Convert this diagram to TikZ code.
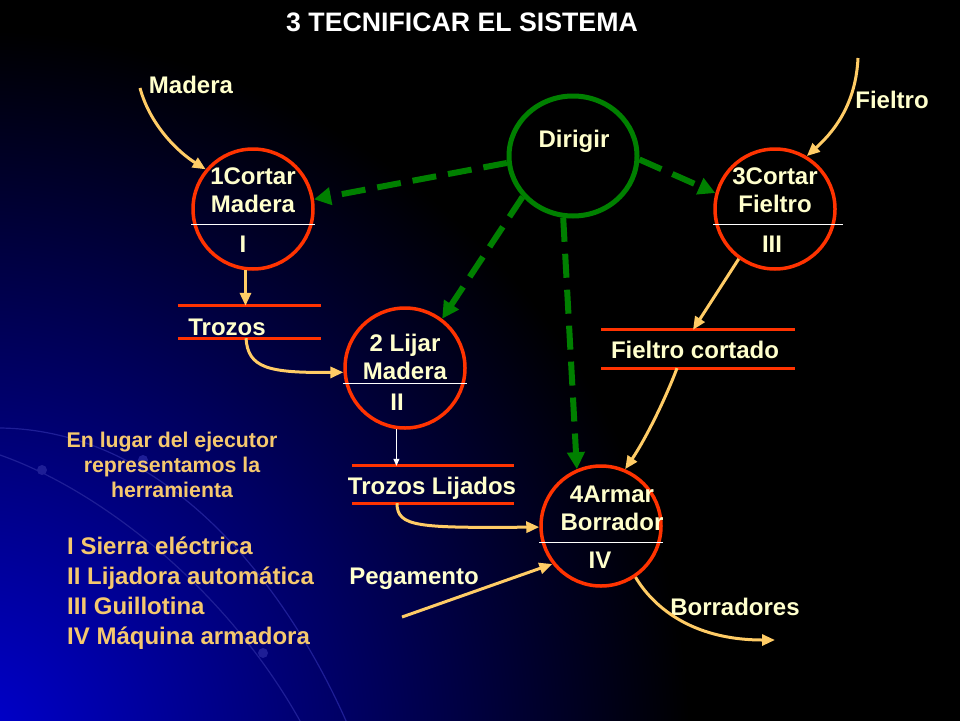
\documentclass[tikz,border=0pt]{standalone}
\usepackage{fontspec}
\setmainfont{Liberation Sans}
\usetikzlibrary{arrows.meta,shapes.geometric,positioning,calc}
\definecolor{procred}{RGB}{255,51,0}
\definecolor{ctrlgreen}{RGB}{0,128,0}
\definecolor{flowor}{RGB}{255,204,102}
\definecolor{txtyel}{RGB}{255,255,204}
\definecolor{notegold}{RGB}{245,200,110}
\definecolor{bgblue}{RGB}{0,0,210}
\definecolor{arcblue}{RGB}{30,30,150}

\begin{document}
\begin{tikzpicture}[x=1pt,y=-1pt,>={Triangle[length=13pt,width=11pt]},
                    font=\fontsize{24}{28}\selectfont\bfseries]
  \tikzstyle{proc}=[circle,draw=procred,line width=3.5pt,minimum size=120pt,inner sep=0pt]
  \tikzstyle{ctrl}=[ellipse,draw=ctrlgreen,line width=5pt,minimum width=128pt,minimum height=120pt]
  \tikzstyle{store}=[rectangle,inner sep=0pt]
  \tikzstyle{storeline}=[draw=procred,line width=3pt]
  \tikzstyle{txt}=[text=txtyel,align=center,inner sep=0pt]
  \tikzstyle{sep}=[draw=white,line width=0.8pt]
  \tikzstyle{flow}=[->,draw=flowor,line width=3pt]
  \tikzstyle{thinflow}=[-{Triangle[length=7pt,width=6pt]},draw=white,line width=0.8pt]
  \tikzstyle{dirflow}=[-{Triangle[length=17pt,width=17pt]},draw=ctrlgreen,line width=6pt,
                       dash pattern=on 24pt off 12pt]

  % background
  \useasboundingbox (0,0) rectangle (960,720);
  \fill[black] (-10,-10) rectangle (970,730);
  \begin{scope}
    \clip (-10,-10) rectangle (970,730);
    \shade[inner color=bgblue,outer color=black] (-30,750) circle (720);
    \draw[arcblue,line width=1.2pt] (0,428) .. controls (170,430) and (290,590) .. (350,730);
    \draw[arcblue,line width=1.2pt] (0,455) .. controls (100,490) and (230,590) .. (305,730);
    \fill[arcblue] (42,470) circle (5) (143,460) circle (5) (263,653) circle (5);
  \end{scope}

  \node[text=white,anchor=base,font=\fontsize{26.7}{30}\selectfont\bfseries] (title)
       at (462,31.5) {3 TECNIFICAR EL SISTEMA};

  % processes
  \node[ctrl] (dir) at (573,156) {};
  \node[txt,anchor=base] (dirt) at (574,147) {Dirigir};
  \node[proc] (p1) at (253,209) {};
  \node[proc] (p2) at (405,368) {};
  \node[proc] (p3) at (775,209) {};
  \node[proc] (p4) at (601,526) {};

  \node[txt] (p1t) at ([yshift=18.5pt]p1.center) {1Cortar\\Madera};
  \node[txt,anchor=base] (p1r) at ([xshift=-10pt,yshift=-43pt]p1.center) {I};
  \draw[sep] ([yshift=-15pt]p1.west) -- ([yshift=-15pt]p1.east);
  \node[txt] (p2t) at ([yshift=11.5pt]p2.center) {2 Lijar\\Madera};
  \node[txt,anchor=base] (p2r) at ([xshift=-8pt,yshift=-42pt]p2.center) {II};
  \draw[sep] ([yshift=-15pt]p2.west) -- ([yshift=-15pt]p2.east);
  \node[txt] (p3t) at ([yshift=18.5pt]p3.center) {3Cortar\\Fieltro};
  \node[txt,anchor=base] (p3r) at ([xshift=-3pt,yshift=-43pt]p3.center) {III};
  \draw[sep] ([yshift=-15pt]p3.west) -- ([xshift=6pt,yshift=-15pt]p3.east);
  \node[txt] (p4t) at ([xshift=11pt,yshift=17.5pt]p4.center) {4Armar\\Borrador};
  \node[txt,anchor=base] (p4r) at ([xshift=-1pt,yshift=-42pt]p4.center) {IV};
  \draw[sep] ([yshift=-16pt]p4.west) -- ([yshift=-16pt]p4.east);

  % stores
  \node[store,minimum width=143pt,minimum height=32pt] (s1) at (249.5,322) {};
  \node[store,minimum width=193pt,minimum height=38pt] (s2) at (698,349) {};
  \node[store,minimum width=162pt,minimum height=37pt] (s3) at (433,484.5) {};
  \draw[storeline] (s1.north west) -- (s1.north east) (s1.south west) -- (s1.south east);
  \draw[storeline] (s2.north west) -- (s2.north east) (s2.south west) -- (s2.south east);
  \draw[storeline] (s3.north west) -- (s3.north east) (s3.south west) -- (s3.south east);
  \node[txt,anchor=base] (s1t) at (227,335) {Trozos};
  \node[txt,anchor=base] (s2t) at (695,358) {Fieltro cortado};
  \node[txt,anchor=base] (s3t) at (432,494) {Trozos Lijados};

  % free ends
  \coordinate (madin) at (140,88);
  \coordinate (fielin) at (858,58);
  \coordinate (pegin) at (402,617);
  \coordinate (borout) at (775,640);
  \node[txt,anchor=base] (madl) at (191,93) {Madera};
  \node[txt,anchor=base] (fiell) at (892,108) {Fieltro};
  \node[txt,anchor=base] (pegl) at (414,584) {Pegamento};
  \node[txt,anchor=base] (borl) at (735,615) {Borradores};

  % data flows
  \draw[flow] (madin) .. controls (150,125) and (178,152) .. (p1.140);
  \draw[flow] (p1.263) -- (p1.263 |- s1.north);
  \draw[flow] ([xshift=-3.5pt]s1.south) .. controls (248,368) and (268,373) .. (p2.184);
  \draw[thinflow] (p2.262) -- (p2.262 |- s3.north);
  \draw[flow] ([xshift=-36pt]s3.south) .. controls (397,527) and (418,528) .. (p4.181);
  \draw[flow] (pegin) -- (p4.218);
  \draw[flow] (p4.304) .. controls (652,605) and (690,640) .. (borout);
  \draw[flow] (fielin) .. controls (856,100) and (838,128) .. (p3.59);
  \draw[flow] (p3.234) -- ([xshift=-5pt]s2.north);
  \draw[flow] ([xshift=-21pt]s2.south) .. controls (665,400) and (645,440) .. (p4.67);

  % control flows
  \draw[dirflow] (dir.186) -- (p1.9);
  \draw[dirflow] (dir.219) -- (p2.53);
  \draw[dirflow] (dir.261) -- (p4.113);
  \draw[dirflow] (dir.357) -- (p3.165);

  % notes
  \node[text=notegold,align=center,inner sep=0pt,anchor=north,
        font=\fontsize{21.3}{25}\selectfont\bfseries] (note) at (172,431.5)
       {En lugar del ejecutor\\representamos la\\herramienta};
  \node[text=notegold,align=left,inner sep=0pt,anchor=north west,
        font=\fontsize{24}{30}\selectfont\bfseries] (tools) at (67,537)
       {I Sierra eléctrica\\II Lijadora automática\\III Guillotina\\IV Máquina armadora};
\end{tikzpicture}
\end{document}
